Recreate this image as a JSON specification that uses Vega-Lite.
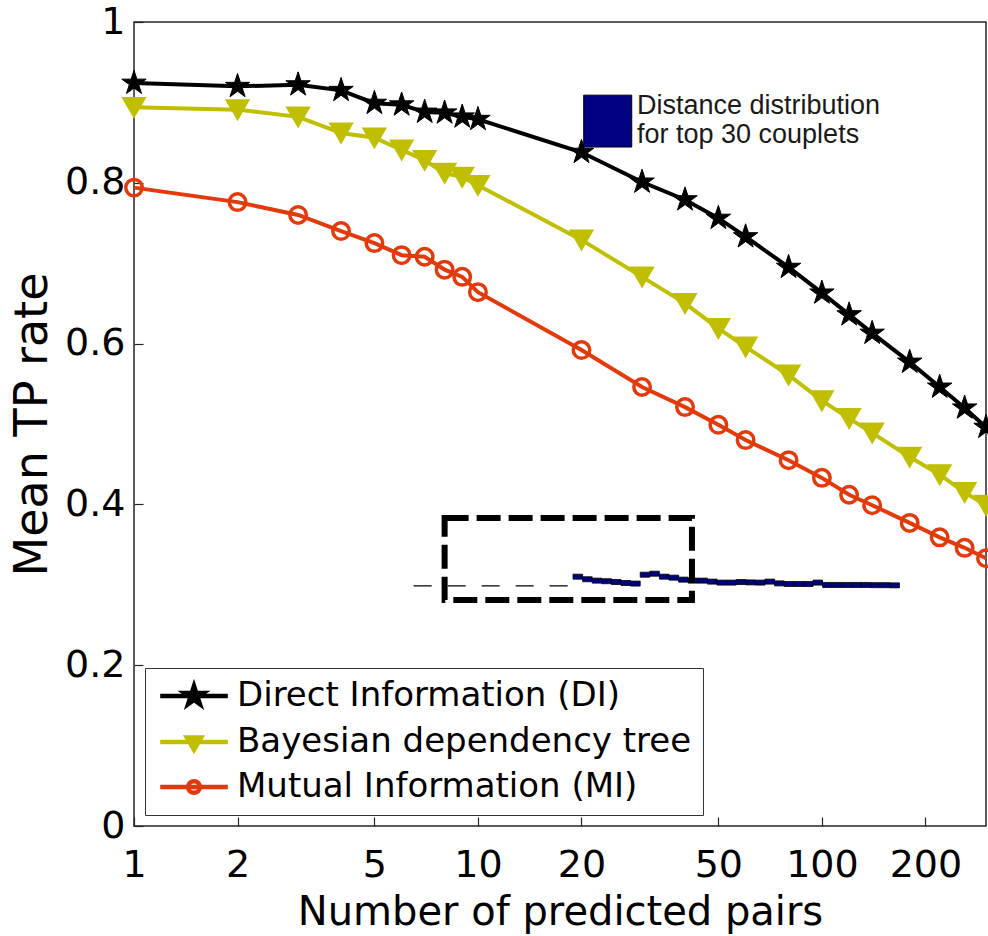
{
  "$schema": "https://vega.github.io/schema/vega-lite/v6.json",
  "width": 852,
  "height": 804,
  "autosize": {"type": "none"},
  "padding": {"left": 134, "top": 22, "right": 2, "bottom": 110},
  "background": "white",
  "config": {
    "font": "DejaVu Sans",
    "view": {"stroke": "#262626", "strokeWidth": 1.5},
    "axis": {"grid": false, "domain": false, "tickColor": "#262626", "tickWidth": 1.2, "tickSize": -9, "labelColor": "black", "titleColor": "black", "labelFont": "DejaVu Sans", "titleFont": "DejaVu Sans", "titleFontWeight": "normal"}
  },
  "datasets": {
    "series": [
      {"pairs": 1, "rate": 0.924, "method": "Direct Information (DI)"},
      {"pairs": 2, "rate": 0.920, "method": "Direct Information (DI)"},
      {"pairs": 3, "rate": 0.922, "method": "Direct Information (DI)"},
      {"pairs": 4, "rate": 0.915, "method": "Direct Information (DI)"},
      {"pairs": 5, "rate": 0.899, "method": "Direct Information (DI)"},
      {"pairs": 6, "rate": 0.897, "method": "Direct Information (DI)"},
      {"pairs": 7, "rate": 0.888, "method": "Direct Information (DI)"},
      {"pairs": 8, "rate": 0.887, "method": "Direct Information (DI)"},
      {"pairs": 9, "rate": 0.882, "method": "Direct Information (DI)"},
      {"pairs": 10, "rate": 0.879, "method": "Direct Information (DI)"},
      {"pairs": 20, "rate": 0.838, "method": "Direct Information (DI)"},
      {"pairs": 30, "rate": 0.801, "method": "Direct Information (DI)"},
      {"pairs": 40, "rate": 0.779, "method": "Direct Information (DI)"},
      {"pairs": 50, "rate": 0.756, "method": "Direct Information (DI)"},
      {"pairs": 60, "rate": 0.733, "method": "Direct Information (DI)"},
      {"pairs": 80, "rate": 0.695, "method": "Direct Information (DI)"},
      {"pairs": 100, "rate": 0.663, "method": "Direct Information (DI)"},
      {"pairs": 120, "rate": 0.636, "method": "Direct Information (DI)"},
      {"pairs": 140, "rate": 0.613, "method": "Direct Information (DI)"},
      {"pairs": 180, "rate": 0.577, "method": "Direct Information (DI)"},
      {"pairs": 220, "rate": 0.546, "method": "Direct Information (DI)"},
      {"pairs": 260, "rate": 0.520, "method": "Direct Information (DI)"},
      {"pairs": 300, "rate": 0.496, "method": "Direct Information (DI)"},
      {"pairs": 1, "rate": 0.894, "method": "Bayesian dependency tree"},
      {"pairs": 2, "rate": 0.891, "method": "Bayesian dependency tree"},
      {"pairs": 3, "rate": 0.882, "method": "Bayesian dependency tree"},
      {"pairs": 4, "rate": 0.862, "method": "Bayesian dependency tree"},
      {"pairs": 5, "rate": 0.856, "method": "Bayesian dependency tree"},
      {"pairs": 6, "rate": 0.841, "method": "Bayesian dependency tree"},
      {"pairs": 7, "rate": 0.828, "method": "Bayesian dependency tree"},
      {"pairs": 8, "rate": 0.812, "method": "Bayesian dependency tree"},
      {"pairs": 9, "rate": 0.807, "method": "Bayesian dependency tree"},
      {"pairs": 10, "rate": 0.797, "method": "Bayesian dependency tree"},
      {"pairs": 20, "rate": 0.729, "method": "Bayesian dependency tree"},
      {"pairs": 30, "rate": 0.683, "method": "Bayesian dependency tree"},
      {"pairs": 40, "rate": 0.650, "method": "Bayesian dependency tree"},
      {"pairs": 50, "rate": 0.619, "method": "Bayesian dependency tree"},
      {"pairs": 60, "rate": 0.596, "method": "Bayesian dependency tree"},
      {"pairs": 80, "rate": 0.561, "method": "Bayesian dependency tree"},
      {"pairs": 100, "rate": 0.529, "method": "Bayesian dependency tree"},
      {"pairs": 120, "rate": 0.507, "method": "Bayesian dependency tree"},
      {"pairs": 140, "rate": 0.489, "method": "Bayesian dependency tree"},
      {"pairs": 180, "rate": 0.459, "method": "Bayesian dependency tree"},
      {"pairs": 220, "rate": 0.437, "method": "Bayesian dependency tree"},
      {"pairs": 260, "rate": 0.415, "method": "Bayesian dependency tree"},
      {"pairs": 300, "rate": 0.399, "method": "Bayesian dependency tree"},
      {"pairs": 1, "rate": 0.794, "method": "Mutual Information (MI)"},
      {"pairs": 2, "rate": 0.776, "method": "Mutual Information (MI)"},
      {"pairs": 3, "rate": 0.760, "method": "Mutual Information (MI)"},
      {"pairs": 4, "rate": 0.740, "method": "Mutual Information (MI)"},
      {"pairs": 5, "rate": 0.725, "method": "Mutual Information (MI)"},
      {"pairs": 6, "rate": 0.710, "method": "Mutual Information (MI)"},
      {"pairs": 7, "rate": 0.708, "method": "Mutual Information (MI)"},
      {"pairs": 8, "rate": 0.692, "method": "Mutual Information (MI)"},
      {"pairs": 9, "rate": 0.683, "method": "Mutual Information (MI)"},
      {"pairs": 10, "rate": 0.664, "method": "Mutual Information (MI)"},
      {"pairs": 20, "rate": 0.592, "method": "Mutual Information (MI)"},
      {"pairs": 30, "rate": 0.546, "method": "Mutual Information (MI)"},
      {"pairs": 40, "rate": 0.521, "method": "Mutual Information (MI)"},
      {"pairs": 50, "rate": 0.499, "method": "Mutual Information (MI)"},
      {"pairs": 60, "rate": 0.480, "method": "Mutual Information (MI)"},
      {"pairs": 80, "rate": 0.455, "method": "Mutual Information (MI)"},
      {"pairs": 100, "rate": 0.433, "method": "Mutual Information (MI)"},
      {"pairs": 120, "rate": 0.412, "method": "Mutual Information (MI)"},
      {"pairs": 140, "rate": 0.399, "method": "Mutual Information (MI)"},
      {"pairs": 180, "rate": 0.377, "method": "Mutual Information (MI)"},
      {"pairs": 220, "rate": 0.359, "method": "Mutual Information (MI)"},
      {"pairs": 260, "rate": 0.346, "method": "Mutual Information (MI)"},
      {"pairs": 300, "rate": 0.333, "method": "Mutual Information (MI)"}
    ],
    "hist": [
      {"lo": 0, "hi": 1, "freq": 0.047}, {"lo": 1, "hi": 2, "freq": 0.034},
      {"lo": 2, "hi": 3, "freq": 0.027}, {"lo": 3, "hi": 4, "freq": 0.024},
      {"lo": 4, "hi": 5, "freq": 0.020}, {"lo": 5, "hi": 6, "freq": 0.015},
      {"lo": 6, "hi": 7, "freq": 0.012}, {"lo": 7, "hi": 8, "freq": 0.057},
      {"lo": 8, "hi": 9, "freq": 0.062}, {"lo": 9, "hi": 10, "freq": 0.047},
      {"lo": 10, "hi": 11, "freq": 0.042}, {"lo": 11, "hi": 12, "freq": 0.032},
      {"lo": 12, "hi": 13, "freq": 0.027}, {"lo": 13, "hi": 14, "freq": 0.027},
      {"lo": 14, "hi": 15, "freq": 0.022}, {"lo": 15, "hi": 16, "freq": 0.017},
      {"lo": 16, "hi": 17, "freq": 0.017}, {"lo": 17, "hi": 18, "freq": 0.020},
      {"lo": 18, "hi": 19, "freq": 0.018}, {"lo": 19, "hi": 20, "freq": 0.017},
      {"lo": 20, "hi": 21, "freq": 0.022}, {"lo": 21, "hi": 22, "freq": 0.013},
      {"lo": 22, "hi": 23, "freq": 0.010}, {"lo": 23, "hi": 24, "freq": 0.010},
      {"lo": 24, "hi": 25, "freq": 0.010}, {"lo": 25, "hi": 26, "freq": 0.017},
      {"lo": 26, "hi": 27, "freq": 0.005}, {"lo": 27, "hi": 28, "freq": 0.005},
      {"lo": 28, "hi": 29, "freq": 0.005}, {"lo": 29, "hi": 30, "freq": 0.005},
      {"lo": 30, "hi": 31, "freq": 0.005}, {"lo": 31, "hi": 32, "freq": 0.004},
      {"lo": 32, "hi": 33, "freq": 0.004}, {"lo": 33, "hi": 34, "freq": 0.003}
    ],
    "baseline": [{"lo": -16.6, "hi": 0, "freq": 0}],
    "box": [{"x1": 8.0, "x2": 41.9, "y1": 0.281, "y2": 0.383}],
    "swatch": [{"x1": 20.3, "x2": 28.0, "y1": 0.8445, "y2": 0.909}],
    "note": [{"x": 29.0, "y": 0.912, "label": "Distance distribution\nfor top 30 couplets"}]
  },
  "layer": [
    {
      "layer": [
        {
          "data": {"name": "baseline"},
          "mark": {"type": "rule", "color": "black", "strokeWidth": 1.2, "strokeDash": [18, 16]},
          "encoding": {
            "x": {"field": "lo", "type": "quantitative", "scale": {"domain": [-45.73, 43.02], "nice": false, "zero": false}, "axis": null},
            "x2": {"field": "hi"},
            "y": {"field": "freq", "type": "quantitative", "scale": {"domain": [-1.19, 2.83], "nice": false, "zero": false}, "axis": null}
          }
        },
        {
          "data": {"name": "hist"},
          "mark": {"type": "bar", "fill": "#000080", "stroke": "black", "strokeWidth": 0.8},
          "encoding": {
            "x": {"field": "lo", "type": "quantitative", "scale": {"domain": [-45.73, 43.02], "nice": false, "zero": false}, "axis": null},
            "x2": {"field": "hi"},
            "y": {"field": "freq", "type": "quantitative", "scale": {"domain": [-1.19, 2.83], "nice": false, "zero": false}, "axis": null}
          }
        }
      ]
    },
    {
      "encoding": {
        "x": {"field": "pairs", "type": "quantitative", "scale": {"type": "log", "domain": [1, 300], "nice": false},
          "axis": {"orient": "bottom", "values": [1, 2, 5, 10, 20, 50, 100, 200], "format": "~g", "labelFontSize": 38, "labelPadding": 29, "title": "Number of predicted pairs", "titleFontSize": 40, "titlePadding": 8, "labelFlush": false}},
        "y": {"field": "rate", "type": "quantitative", "scale": {"domain": [0, 1], "nice": false, "zero": false},
          "axis": {"orient": "left", "values": [0, 0.2, 0.4, 0.6, 0.8, 1], "format": "~g", "labelFontSize": 38, "labelPadding": 18, "title": "Mean TP rate", "titleFontSize": 46, "titlePadding": 8, "labelFlush": false}}
      },
      "layer": [
        {
          "data": {"name": "box"},
          "mark": {"type": "rect", "fill": "white", "fillOpacity": 0, "stroke": "black", "strokeWidth": 6, "strokeDash": [24, 8]},
          "encoding": {
            "x": {"field": "x1", "type": "quantitative", "title": "Number of predicted pairs"},
            "x2": {"field": "x2"},
            "y": {"field": "y1", "type": "quantitative", "title": "Mean TP rate"},
            "y2": {"field": "y2"}
          }
        },
        {
          "data": {"name": "series"},
          "mark": {"type": "line", "strokeWidth": 4},
          "encoding": {
            "color": {"field": "method", "type": "nominal",
              "scale": {"domain": ["Direct Information (DI)", "Bayesian dependency tree", "Mutual Information (MI)"], "range": ["#000000", "#bfbf00", "#e23b0b"]},
              "legend": {
                "orient": "none", "legendX": 11, "legendY": 646, "title": null,
                "padding": 11, "strokeColor": "#333333", "fillColor": "white",
                "labelFontSize": 34, "labelColor": "black", "labelLimit": 1000, "labelFont": "DejaVu Sans",
                "symbolSize": 676, "symbolOffset": 21, "labelOffset": 26, "rowPadding": 11, "symbolStrokeWidth": 4.5,
                "encode": {
                  "symbols": {
                    "update": {
                      "shape": {"signal": "datum.value === 'Direct Information (DI)' ? 'M-2.6,0H2.6M0,-0.77L0.173,-0.238L0.732,-0.238L0.28,0.091L0.453,0.623L0,0.294L-0.453,0.623L-0.28,0.091L-0.732,-0.238L-0.173,-0.238Z' : datum.value === 'Bayesian dependency tree' ? 'M-2.6,0H2.6M-0.55,-0.35L0.55,-0.35L0,0.6Z' : 'M-2.6,0H2.6M0.45,0A0.45,0.45,0,1,1,-0.45,0A0.45,0.45,0,1,1,0.45,0Z'"},
                      "fill": {"signal": "datum.value === 'Direct Information (DI)' ? 'black' : datum.value === 'Bayesian dependency tree' ? '#bfbf00' : 'white'"},
                      "stroke": {"signal": "datum.value === 'Direct Information (DI)' ? 'black' : datum.value === 'Bayesian dependency tree' ? '#bfbf00' : '#e23b0b'"},
                      "fillOpacity": {"value": 1},
                      "strokeWidth": {"value": 4.5},
                      "size": {"value": 676}
                    }
                  }
                }
              }
            }
          }
        },
        {
          "data": {"name": "series"},
          "transform": [{"filter": "datum.method === 'Direct Information (DI)'"}],
          "mark": {"type": "point", "shape": "M0,-1L0.2245,-0.309L0.9511,-0.309L0.3633,0.118L0.5878,0.809L0,0.382L-0.5878,0.809L-0.3633,0.118L-0.9511,-0.309L-0.2245,-0.309Z", "size": 660, "filled": true, "fill": "black", "stroke": "black", "strokeWidth": 1, "opacity": 1}
        },
        {
          "data": {"name": "series"},
          "transform": [{"filter": "datum.method === 'Bayesian dependency tree'"}],
          "mark": {"type": "point", "shape": "triangle-down", "size": 440, "filled": true, "fill": "#bfbf00", "stroke": "#bfbf00", "strokeWidth": 2.5, "opacity": 1}
        },
        {
          "data": {"name": "series"},
          "transform": [{"filter": "datum.method === 'Mutual Information (MI)'"}],
          "mark": {"type": "point", "shape": "circle", "size": 272, "filled": false, "stroke": "#e23b0b", "strokeWidth": 3.5, "opacity": 1}
        },
        {
          "data": {"name": "swatch"},
          "mark": {"type": "rect", "fill": "#000080", "stroke": "black", "strokeWidth": 1},
          "encoding": {
            "x": {"field": "x1", "type": "quantitative", "title": "Number of predicted pairs"},
            "x2": {"field": "x2"},
            "y": {"field": "y1", "type": "quantitative", "title": "Mean TP rate"},
            "y2": {"field": "y2"}
          }
        },
        {
          "data": {"name": "note"},
          "mark": {"type": "text", "align": "left", "baseline": "top", "font": "Liberation Sans", "fontSize": 27, "lineBreak": "\n", "lineHeight": 29, "color": "#1a1a1a"},
          "encoding": {
            "x": {"field": "x", "type": "quantitative", "title": "Number of predicted pairs"},
            "y": {"field": "y", "type": "quantitative", "title": "Mean TP rate"},
            "text": {"field": "label", "type": "nominal"}
          }
        }
      ]
    }
  ],
  "resolve": {"scale": {"x": "independent", "y": "independent"}}
}
